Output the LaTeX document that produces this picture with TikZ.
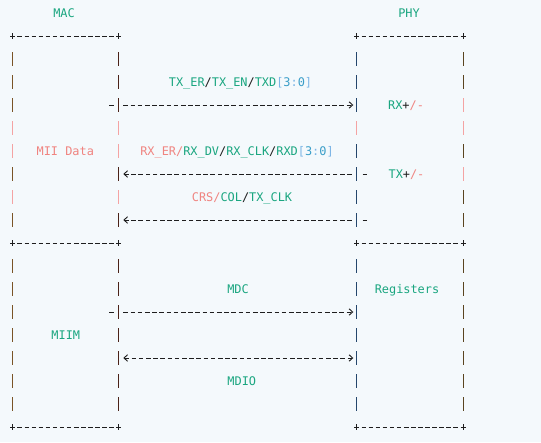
\documentclass[tikz,border=0pt]{standalone}
\usepackage{fontspec}
\newfontfamily\monofont{DejaVu Sans Mono}
\usetikzlibrary{arrows.meta,calc}
\definecolor{bg}{HTML}{F4F9FC}
\definecolor{tealc}{HTML}{1AA680}
\definecolor{salmon}{HTML}{F08480}
\definecolor{bluec}{HTML}{7DB6E6}
\definecolor{digitc}{HTML}{3A9EC8}
\definecolor{ink}{HTML}{1E1E1E}
\definecolor{pinkbar}{HTML}{F4A3A3}
\definecolor{barA}{HTML}{7A5426}
\definecolor{barB}{HTML}{4A2218}
\definecolor{barC}{HTML}{24466C}
\definecolor{barD}{HTML}{5A4420}
\newcommand{\mtl}[1]{\textcolor{tealc}{#1}}
\newcommand{\msl}[1]{\textcolor{salmon}{#1}}
\newcommand{\mdk}[1]{\textcolor{ink}{#1}}
\newcommand{\mbl}{\textcolor{bluec}{[}\textcolor{digitc}{3}\textcolor{bluec}{:}\textcolor{digitc}{0}\textcolor{bluec}{]}}
\begin{document}
\begin{tikzpicture}[x=1pt,y=-1pt,
  lbl/.style={font=\monofont\fontsize{11.9}{14}\selectfont, inner sep=0pt, outer sep=0pt, anchor=base},
  boxarea/.style={draw=none, rectangle, inner sep=0pt, outer sep=0pt},
  hdash/.style={draw=ink, line width=0.9pt, dash pattern=on 4.6pt off 2.46pt},
  arr/.style={draw=ink, line width=0.9pt, dash pattern=on 4.6pt off 2.6pt},
  stub/.style={draw=ink, line width=0.9pt},
  vbar/.style={line width=1.35pt},
  plusm/.style={draw=ink, line width=0.9pt}
]
\fill[bg] (0,0) rectangle (541,442);
\useasboundingbox (0,0) rectangle (541,442);

% box areas
\node[boxarea, minimum width=105.9pt, minimum height=207pt] (macdata) at (65.65,139.5) {};
\node[boxarea, minimum width=106.4pt, minimum height=207pt] (phydata) at (410,139.5) {};
\node[boxarea, minimum width=105.9pt, minimum height=184pt] (macmiim) at (65.65,335) {};
\node[boxarea, minimum width=106.4pt, minimum height=184pt] (phymiim) at (410,335) {};

% row coordinates
\foreach \k in {0,...,18} {\coordinate (r\k) at (0,{13+23*\k});}

% horizontal borders
\foreach \b in {macdata,phydata,macmiim,phymiim} {
  \draw[hdash] ($(\b.north west)+(4.76,0)$) -- ($(\b.north east)+(-4.76,0)$);
}
\foreach \b in {macmiim,phymiim} {
  \draw[hdash] ($(\b.south west)+(4.76,0)$) -- ($(\b.south east)+(-4.76,0)$);
}
% plus marks
\foreach \p in {macdata.north west,macdata.north east,phydata.north west,phydata.north east,
                macmiim.north west,macmiim.north east,phymiim.north west,phymiim.north east,
                macmiim.south west,macmiim.south east,phymiim.south west,phymiim.south east} {
  \draw[plusm] (\p) +(-2.6,0) -- +(2.6,0) (\p) +(0,-2.6) -- +(0,2.6);
}

% vertical bars
\foreach \r/\cA/\cB/\cC/\cD in {2/barA/barB/barC/barD,3/barA/barB/barC/barD,4/barA/barB/barC/pinkbar,
   5/pinkbar/pinkbar/pinkbar/pinkbar,6/pinkbar/pinkbar/barC/barD,7/barA/barB/barC/pinkbar,
   8/pinkbar/pinkbar/barC/barD,9/barA/barB/barC/barD} {
  \draw[vbar,draw=\cA] ($(macdata.west |- r\r)+(0,-6.7)$) -- ++(0,13.4);
  \draw[vbar,draw=\cB] ($(macdata.east |- r\r)+(0,-6.7)$) -- ++(0,13.4);
  \draw[vbar,draw=\cC] ($(phydata.west |- r\r)+(0,-6.7)$) -- ++(0,13.4);
  \draw[vbar,draw=\cD] ($(phydata.east |- r\r)+(0,-6.7)$) -- ++(0,13.4);
}
\foreach \r in {11,...,17} {
  \draw[vbar,draw=barA] ($(macmiim.west |- r\r)+(0,-6.7)$) -- ++(0,13.4);
  \draw[vbar,draw=barB] ($(macmiim.east |- r\r)+(0,-6.7)$) -- ++(0,13.4);
  \draw[vbar,draw=barC] ($(phymiim.west |- r\r)+(0,-6.7)$) -- ++(0,13.4);
  \draw[vbar,draw=barD] ($(phymiim.east |- r\r)+(0,-6.7)$) -- ++(0,13.4);
}

% connectors
\draw[arr, -{Straight Barb[length=3.6pt,width=6.5pt]}, shorten <=4.7pt, shorten >=3.5pt]
  (macdata.east |- r4) -- (phydata.west |- r4);
\draw[arr, -{Straight Barb[length=3.6pt,width=6.5pt]}, shorten <=5.1pt, shorten >=4.7pt]
  (phydata.west |- r7) -- (macdata.east |- r7);
\draw[arr, -{Straight Barb[length=3.6pt,width=6.5pt]}, shorten <=5.1pt, shorten >=4.7pt]
  (phydata.west |- r9) -- (macdata.east |- r9);
\draw[arr, -{Straight Barb[length=3.6pt,width=6.5pt]}, shorten <=4.7pt, shorten >=3.5pt]
  (macmiim.east |- r13) -- (phymiim.west |- r13);
\draw[arr, {Straight Barb[length=3.6pt,width=6.5pt]}-{Straight Barb[length=3.6pt,width=6.5pt]}, shorten <=4.7pt, shorten >=3.5pt]
  (macmiim.east |- r15) -- (phymiim.west |- r15);

% stubs
\draw[stub] ($(macdata.east |- r4)+(-9.3,0)$) -- ++(4.7,0);
\draw[stub] ($(macmiim.east |- r13)+(-9.3,0)$) -- ++(4.7,0);
\draw[stub] ($(phydata.west |- r7)+(5.9,0)$) -- ++(4.3,0);
\draw[stub] ($(phydata.west |- r9)+(5.9,0)$) -- ++(4.3,0);

% labels
\node[lbl] (maclbl) at (64,17.3) {\mtl{MAC}};
\node[lbl] (phylbl) at (409,17.3) {\mtl{PHY}};
\node[lbl] (txsig) at (240.5,86.3) {\mtl{TX\_ER}\mdk{/}\mtl{TX\_EN}\mdk{/}\mtl{TXD}\mbl};
\node[lbl] (rxpm) at (406,109.3) {\mtl{RX}\mdk{+}\msl{/-}};
\node[lbl] (miidata) at (65.3,155.3) {\msl{MII Data}};
\node[lbl] (rxsig) at (237,155.3) {\msl{RX\_ER/}\mtl{RX\_DV}\mdk{/}\mtl{RX\_CLK}\mdk{/}\mtl{RXD}\mbl};
\node[lbl] (txpm) at (406.5,178.3) {\mtl{TX}\mdk{+}\msl{/-}};
\node[lbl] (crs) at (242,201.3) {\msl{CRS/}\mtl{COL}\mdk{/}\mtl{TX\_CLK}};
\node[lbl] (mdc) at (238,293.3) {\mtl{MDC}};
\node[lbl] (regs) at (407,293.3) {\mtl{Registers}};
\node[lbl] (miim) at (65.8,339.3) {\mtl{MIIM}};
\node[lbl] (mdio) at (241.8,385.3) {\mtl{MDIO}};
\end{tikzpicture}
\end{document}
